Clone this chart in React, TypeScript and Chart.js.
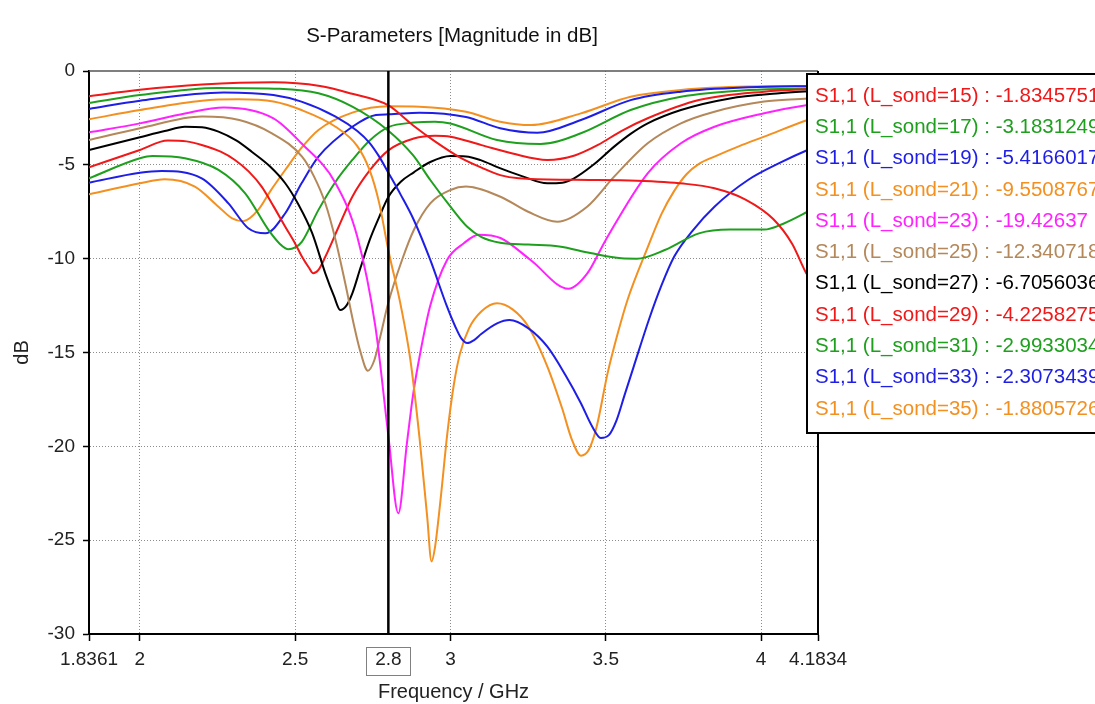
import React, { useEffect, useRef } from 'react';
import { Chart, registerables } from 'chart.js';

Chart.register(...registerables);

// ---- Data ----
const L_SOND = [15, 17, 19, 21, 23, 25, 27, 29, 31, 33, 35];
const COLORS = ['#f01818', '#1ea01e', '#1e1ee6', '#f39020', '#ff22ff', '#b4885a', '#000000', '#f01818', '#1ea01e', '#1e1ee6', '#f39020'];
const LEGEND_VALUES = ['-1.8345751', '-3.1831249', '-5.4166017', '-9.5508767', '-19.42637', '-12.340718', '-6.7056036', '-4.2258275', '-2.9933034', '-2.3073439', '-1.8805726'];

const f15 = [1.8361, 2.0, 2.2, 2.43, 2.58, 2.68, 2.8, 2.88, 2.95, 3.03, 3.1, 3.16, 3.22, 3.4, 3.6, 3.75, 3.85, 3.95, 4.04, 4.1, 4.15, 4.1834];
const s15 = [-1.35, -1.0, -0.72, -0.6, -0.8, -1.2, -1.83, -2.9, -3.75, -4.6, -5.15, -5.55, -5.72, -5.8, -5.85, -6.0, -6.25, -6.85, -7.9, -9.2, -10.9, -11.5];

const f17 = [1.8361, 2.0, 2.25, 2.45, 2.575, 2.684, 2.8, 2.88, 2.935, 3.0, 3.054, 3.1, 3.16, 3.25, 3.35, 3.45, 3.55, 3.6, 3.69, 3.8, 3.9, 4.01, 4.07, 4.15, 4.1834];
const s17 = [-1.7, -1.28, -0.9, -0.95, -1.19, -1.9, -3.18, -4.5, -5.81, -7.23, -8.3, -8.85, -9.15, -9.25, -9.35, -9.7, -9.98, -10.0, -9.54, -8.65, -8.45, -8.45, -8.15, -7.5, -7.2];

const f19 = [1.8361, 2.0, 2.27, 2.43, 2.52, 2.63, 2.7, 2.74, 2.77, 2.8, 2.84, 2.882, 2.935, 2.989, 3.015, 3.035, 3.054, 3.075, 3.1, 3.15, 3.19, 3.25, 3.312, 3.37, 3.42, 3.455, 3.484, 3.51, 3.535, 3.56, 3.59, 3.64, 3.68, 3.72, 3.78, 3.85, 3.958, 4.06, 4.15, 4.1834];
const s19 = [-2.02, -1.58, -1.14, -1.28, -1.63, -2.43, -3.2, -3.84, -4.55, -5.42, -6.6, -7.94, -10.07, -12.56, -13.6, -14.25, -14.5, -14.35, -14.0, -13.45, -13.27, -13.7, -14.69, -16.2, -17.7, -18.9, -19.55, -19.4, -18.6, -17.3, -15.75, -13.2, -11.4, -9.9, -8.5, -7.23, -5.81, -4.9, -4.21, -4.0];

const f21 = [1.8361, 2.0, 2.2, 2.317, 2.43, 2.52, 2.63, 2.7, 2.74, 2.77, 2.8, 2.84, 2.871, 2.9, 2.925, 2.939, 2.95, 2.968, 2.99, 3.01, 3.03, 3.06, 3.1, 3.15, 3.2, 3.25, 3.312, 3.36, 3.39, 3.42, 3.445, 3.47, 3.506, 3.54, 3.57, 3.635, 3.68, 3.72, 3.76, 3.8, 3.85, 3.93, 4.01, 4.15, 4.1834];
const s21 = [-2.57, -2.08, -1.58, -1.51, -1.63, -2.08, -2.97, -4.0, -5.3, -7.0, -9.55, -12.5, -15.4, -19.5, -23.75, -26.14, -25.4, -22.85, -19.3, -16.8, -15.1, -13.7, -12.8, -12.37, -12.7, -13.6, -15.75, -18.0, -19.6, -20.5, -20.2, -19.0, -16.1, -13.9, -12.2, -9.4, -7.6, -6.4, -5.5, -4.95, -4.56, -4.0, -3.5, -2.61, -2.45];

const f23 = [1.8361, 2.0, 2.145, 2.27, 2.43, 2.52, 2.63, 2.7, 2.758, 2.8, 2.832, 2.86, 2.88, 2.903, 2.935, 2.989, 3.043, 3.09, 3.161, 3.258, 3.38, 3.44, 3.5, 3.635, 3.742, 3.85, 4.01, 4.15, 4.1834];
const s23 = [-3.27, -2.79, -2.26, -1.94, -2.52, -3.85, -5.98, -8.83, -13.6, -19.43, -23.57, -19.8, -17.2, -15.0, -12.5, -10.07, -9.18, -8.72, -8.9, -10.07, -11.6, -10.8, -9.0, -5.45, -3.85, -2.97, -2.25, -1.81, -1.75];

const f25 = [1.8361, 2.0, 2.2, 2.32, 2.425, 2.522, 2.56, 2.597, 2.63, 2.661, 2.69, 2.709, 2.734, 2.755, 2.774, 2.8, 2.844, 2.882, 2.935, 3.0, 3.05, 3.161, 3.25, 3.344, 3.44, 3.527, 3.635, 3.742, 3.85, 4.01, 4.15, 4.1834];
const s25 = [-3.68, -3.05, -2.43, -2.61, -3.32, -4.56, -5.6, -7.05, -9.0, -11.3, -13.6, -14.9, -15.97, -15.4, -14.15, -12.34, -10.07, -8.47, -7.05, -6.34, -6.16, -6.7, -7.5, -8.03, -7.23, -5.63, -3.85, -2.79, -2.17, -1.63, -1.46, -1.4];

const f27 = [1.8361, 2.0, 2.08, 2.145, 2.2, 2.253, 2.31, 2.36, 2.42, 2.468, 2.51, 2.555, 2.597, 2.625, 2.645, 2.665, 2.684, 2.71, 2.74, 2.77, 2.8, 2.84, 2.882, 2.935, 3.0, 3.05, 3.097, 3.155, 3.23, 3.312, 3.36, 3.398, 3.46, 3.527, 3.58, 3.635, 3.742, 3.9, 4.05, 4.1834];
const s27 = [-4.21, -3.53, -3.2, -2.97, -3.0, -3.23, -3.7, -4.3, -5.1, -5.98, -7.1, -8.65, -10.78, -12.0, -12.73, -12.5, -11.85, -10.5, -9.0, -7.8, -6.71, -5.9, -5.4, -4.85, -4.53, -4.55, -4.75, -5.15, -5.6, -5.98, -5.95, -5.72, -5.0, -4.03, -3.35, -2.79, -2.08, -1.46, -1.2, -1.05];

const f29 = [1.8361, 2.0, 2.09, 2.15, 2.199, 2.26, 2.306, 2.35, 2.392, 2.43, 2.468, 2.5, 2.522, 2.545, 2.558, 2.575, 2.597, 2.64, 2.684, 2.74, 2.8, 2.882, 2.95, 3.0, 3.1, 3.2, 3.312, 3.4, 3.475, 3.55, 3.635, 3.8, 4.01, 4.1834];
const s29 = [-5.13, -4.21, -3.71, -3.75, -3.94, -4.3, -4.74, -5.35, -6.16, -7.2, -8.3, -9.2, -9.9, -10.5, -10.78, -10.6, -9.9, -8.3, -6.7, -5.3, -4.23, -3.6, -3.45, -3.5, -3.95, -4.4, -4.74, -4.5, -3.94, -3.2, -2.52, -1.55, -1.1, -0.95];

const f31 = [1.8361, 2.0, 2.04, 2.145, 2.253, 2.339, 2.414, 2.45, 2.478, 2.5, 2.522, 2.575, 2.63, 2.684, 2.74, 2.8, 2.882, 2.95, 3.0, 3.15, 3.29, 3.42, 3.58, 3.742, 3.96, 4.1834];
const s31 = [-5.72, -4.65, -4.53, -4.65, -5.27, -6.52, -8.47, -9.2, -9.5, -9.4, -9.09, -7.4, -5.9, -4.74, -3.7, -2.99, -2.75, -2.7, -2.8, -3.68, -3.89, -3.32, -2.08, -1.37, -1.01, -0.92];

const f33 = [1.8361, 2.0, 2.07, 2.199, 2.285, 2.349, 2.404, 2.468, 2.52, 2.575, 2.684, 2.76, 2.8, 2.9, 3.05, 3.16, 3.28, 3.42, 3.58, 3.742, 3.96, 4.1834];
const s33 = [-5.95, -5.42, -5.33, -5.72, -7.05, -8.38, -8.65, -7.58, -6.0, -4.56, -2.97, -2.34, -2.31, -2.22, -2.45, -3.05, -3.29, -2.61, -1.55, -1.1, -0.87, -0.8];

const f35 = [1.8361, 2.0, 2.08, 2.177, 2.253, 2.297, 2.333, 2.381, 2.42, 2.468, 2.52, 2.575, 2.684, 2.8, 2.9, 3.05, 3.16, 3.26, 3.42, 3.58, 3.742, 3.96, 4.1834];
const s35 = [-6.57, -5.98, -5.77, -6.16, -7.23, -7.85, -8.0, -7.4, -6.4, -5.27, -4.1, -3.14, -2.22, -1.88, -1.9, -2.17, -2.7, -2.88, -2.26, -1.37, -1.01, -0.83, -0.8];

const FREQS = [f15, f17, f19, f21, f23, f25, f27, f29, f31, f33, f35];
const VALUES = [s15, s17, s19, s21, s23, s25, s27, s29, s31, s33, s35];

const X_TICKS = [1.8361, 2, 2.5, 2.8, 3, 3.5, 4, 4.1834];
const X_TICK_LABELS = ['1.8361', '2', '2.5', '2.8', '3', '3.5', '4', '4.1834'];
const X_GRID = [2, 2.5, 3, 3.5, 4];
const Y_GRID = [-5, -10, -15, -20, -25];
const MARKER = 2.8;
const X_MIN = 1.8361;
const X_MAX = 4.1834;

const TITLE = 'S-Parameters [Magnitude in dB]';
const X_TITLE = 'Frequency / GHz';
const Y_TITLE = 'dB';
const FONT = "'Liberation Sans', Arial, sans-serif";

const decorPlugin = {
  id: 'decor',
  beforeDraw(chart: any) {
    const { ctx, width, height } = chart;
    ctx.save();
    ctx.fillStyle = '#ffffff';
    ctx.fillRect(0, 0, width, height);
    ctx.restore();
  },
  afterDatasetsDraw(chart: any) {
    const { ctx, chartArea } = chart;
    const xs = chart.scales.x;
    ctx.save();
    ctx.strokeStyle = '#555555';
    ctx.lineWidth = 1.5;
    ctx.beginPath();
    ctx.moveTo(chartArea.left, chartArea.top);
    ctx.lineTo(chartArea.right, chartArea.top);
    ctx.stroke();
    ctx.strokeStyle = '#000000';
    ctx.lineWidth = 2;
    ctx.beginPath();
    ctx.moveTo(chartArea.right, chartArea.top);
    ctx.lineTo(chartArea.right, chartArea.bottom);
    ctx.stroke();
    const mx = xs.getPixelForValue(MARKER);
    ctx.strokeStyle = '#000000';
    ctx.lineWidth = 2.5;
    ctx.beginPath();
    ctx.moveTo(mx, chartArea.top);
    ctx.lineTo(mx, chartArea.bottom);
    ctx.stroke();
    ctx.restore();
  },
  afterDraw(chart: any) {
    const { ctx } = chart;
    const xs = chart.scales.x;
    ctx.save();
    const mx = xs.getPixelForValue(MARKER);
    ctx.strokeStyle = '#808080';
    ctx.lineWidth = 1;
    ctx.strokeRect(Math.round(mx - 22) + 0.5, 647.5, 44, 28);
    ctx.fillStyle = '#111111';
    ctx.font = `20.5px ${FONT}`;
    ctx.textAlign = 'center';
    ctx.textBaseline = 'middle';
    ctx.fillText(TITLE, 452, 36);
    const lx = 807;
    const ly = 74;
    const lh = 359;
    ctx.fillStyle = '#ffffff';
    ctx.fillRect(lx, ly, 400, lh);
    ctx.strokeStyle = '#000000';
    ctx.lineWidth = 2;
    ctx.strokeRect(lx, ly, 400, lh);
    ctx.font = `20.5px ${FONT}`;
    ctx.textAlign = 'left';
    ctx.textBaseline = 'middle';
    L_SOND.forEach((l, i) => {
      ctx.fillStyle = COLORS[i];
      ctx.fillText(`S1,1 (L_sond=${l}) : ${LEGEND_VALUES[i]}`, 815, 96 + i * 31.3);
    });
    ctx.restore();
  },
};

export default function App() {
  const ref = useRef<HTMLCanvasElement | null>(null);

  useEffect(() => {
    if (!ref.current) return;
    const datasets = L_SOND.map((l, i) => ({
      label: `S1,1 (L_sond=${l})`,
      data: FREQS[i].map((x, j) => ({ x, y: VALUES[i][j] })),
      borderColor: COLORS[i],
      backgroundColor: COLORS[i],
      borderWidth: 2,
      pointRadius: 0,
      fill: false,
      cubicInterpolationMode: 'monotone' as const,
    }));

    const chart = new Chart(ref.current, {
      type: 'line',
      data: { datasets },
      plugins: [decorPlugin],
      options: {
        responsive: false,
        animation: false,
        layout: { padding: { top: 71, right: 277, left: 0, bottom: 0 } },
        plugins: {
          legend: { display: false },
          tooltip: { enabled: false },
          title: { display: false },
        },
        scales: {
          x: {
            type: 'linear',
            min: X_MIN,
            max: X_MAX,
            afterBuildTicks: (scale: any) => {
              scale.ticks = X_TICKS.map((v) => ({ value: v }));
            },
            afterFit: (scale: any) => {
              scale.height = 70;
            },
            ticks: {
              autoSkip: false,
              maxRotation: 0,
              minRotation: 0,
              padding: 7,
              color: '#222222',
              font: { family: FONT, size: 19 },
              callback: (v: any) => {
                const idx = X_TICKS.findIndex((t) => Math.abs(t - Number(v)) < 1e-6);
                return idx >= 0 ? X_TICK_LABELS[idx] : '';
              },
            },
            grid: {
              color: (c: any) => {
                const v = c.tick ? c.tick.value : null;
                return v !== null && X_GRID.some((g) => Math.abs(g - v) < 1e-6) ? '#8c8c8c' : 'rgba(0,0,0,0)';
              },
              lineWidth: 1,
              tickLength: 7,
              tickColor: (c: any) => {
                const v = c.tick ? c.tick.value : null;
                return v !== null && Math.abs(v - MARKER) < 1e-6 ? 'rgba(0,0,0,0)' : '#000000';
              },
              tickWidth: 1.5,
            },
            border: { display: true, color: '#000000', width: 2, dash: [1, 2] },
            title: {
              display: true,
              text: X_TITLE,
              color: '#222222',
              font: { family: FONT, size: 20 },
              padding: { top: 0, bottom: 0 },
            },
          },
          y: {
            type: 'linear',
            min: -30,
            max: 0,
            afterFit: (scale: any) => {
              scale.width = 89;
            },
            ticks: {
              stepSize: 5,
              padding: 8,
              color: '#222222',
              font: { family: FONT, size: 19 },
            },
            grid: {
              color: (c: any) => {
                const v = c.tick ? c.tick.value : null;
                return v !== null && Y_GRID.includes(v) ? '#8c8c8c' : 'rgba(0,0,0,0)';
              },
              lineWidth: 1,
              tickLength: 6,
              tickColor: '#000000',
              tickWidth: 1.5,
            },
            border: { display: true, color: '#000000', width: 2, dash: [1, 2] },
            title: {
              display: true,
              text: Y_TITLE,
              color: '#222222',
              font: { family: FONT, size: 20 },
              padding: { top: 10, bottom: 0 },
            },
          },
        },
      },
    });
    return () => chart.destroy();
  }, []);

  return (
    <div style={{ position: 'fixed', left: 0, top: 0, width: 1095, height: 704, background: '#fff' }}>
      <canvas ref={ref} width={1095} height={704} style={{ display: 'block' }} />
    </div>
  );
}
